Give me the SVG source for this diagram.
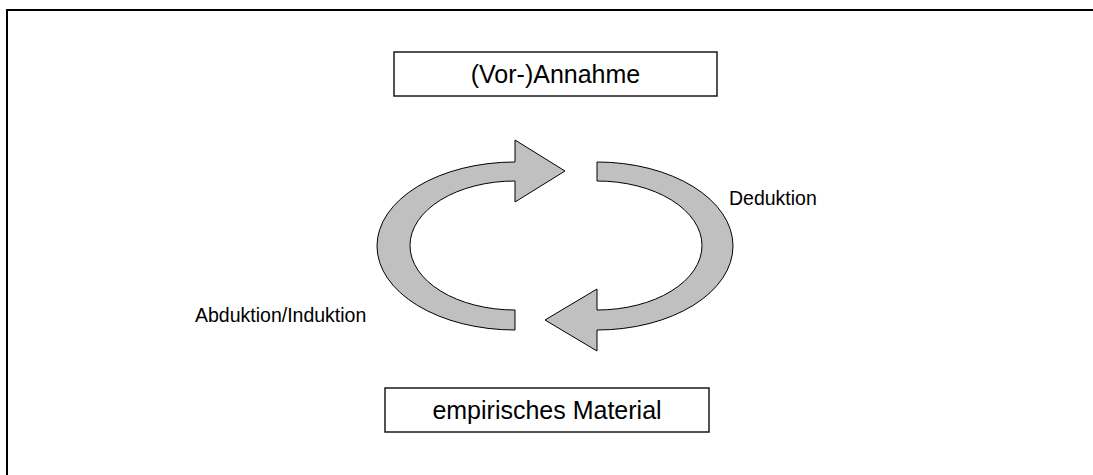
<svg xmlns="http://www.w3.org/2000/svg" width="1093" height="475" viewBox="0 0 1093 475">
  <style>
    .box { fill: #ffffff; stroke: #1a1a1a; stroke-width: 1.5; }
    .boxtext { font-family: "Liberation Sans", Arial, sans-serif; font-size: 25px; fill: #000000; text-anchor: middle; }
    .label { font-family: "Liberation Sans", Arial, sans-serif; font-size: 19.5px; fill: #000000; }
    .arrow { fill: #c0c0c0; stroke: #000000; stroke-width: 1; stroke-linejoin: miter; }
    .frame { fill: none; stroke: #000000; stroke-width: 2; }
  </style>
  <rect x="0" y="0" width="1093" height="475" fill="#ffffff"/>
  <path class="frame" d="M 7 476 L 7 10 L 1094 10"/>

  <g id="node-annahme">
    <rect class="box" x="394" y="52" width="323" height="44"/>
    <text class="boxtext" x="555.5" y="83">(Vor-)Annahme</text>
  </g>

  <g id="node-material">
    <rect class="box" x="385" y="388" width="324" height="44"/>
    <text class="boxtext" x="547" y="419">empirisches Material</text>
  </g>

  <g id="connectors">
    <g id="arrow-abduktion">
      <path class="arrow" d="M 515 330 A 138 84 0 0 1 515 162 L 515 140 L 565 171 L 515 202 L 515 181 A 105 64.5 0 0 0 515 310 Z"/>
    </g>
    <g id="arrow-deduktion">
      <path class="arrow" d="M 597 162 A 136 84 0 0 1 597 330 L 597 351 L 545 320 L 597 289 L 597 310 A 105 64.5 0 0 0 597 181 Z"/>
    </g>
  </g>

  <g id="label-abduktion">
    <text class="label" x="195" y="322">Abduktion/Induktion</text>
  </g>
  <g id="label-deduktion">
    <text class="label" x="729" y="205">Deduktion</text>
  </g>
</svg>
